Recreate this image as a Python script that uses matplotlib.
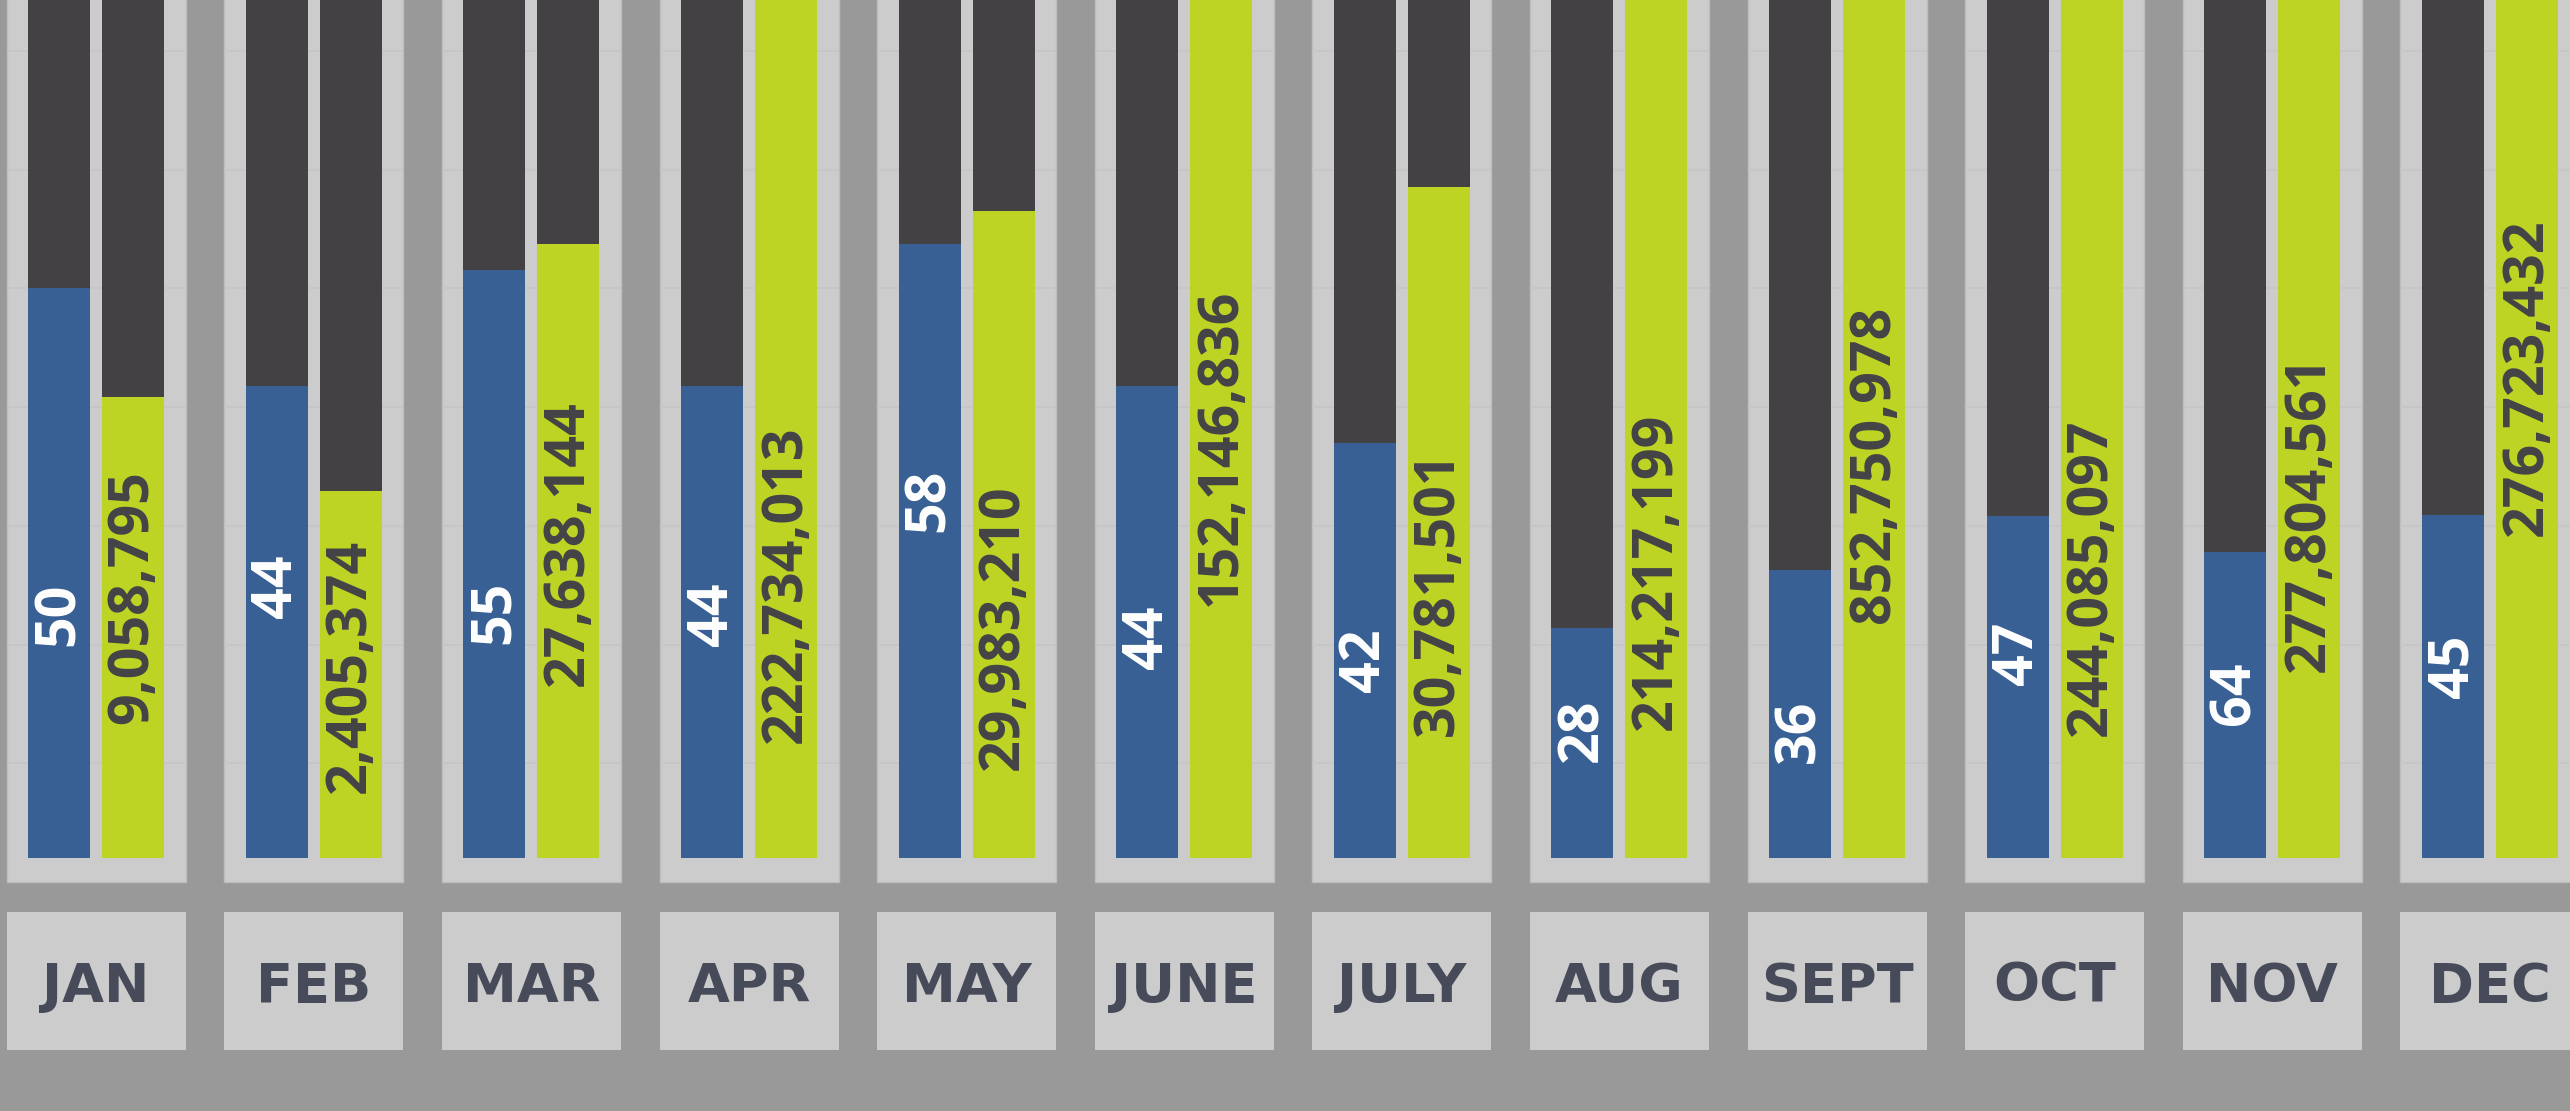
import numpy as np
import matplotlib.pyplot as plt

plt.rcParams['font.family'] = ['Open Sans', 'DejaVu Sans']

months = ['JAN', 'FEB', 'MAR', 'APR', 'MAY', 'JUNE', 'JULY', 'AUG', 'SEPT', 'OCT', 'NOV', 'DEC']
pct_labels = ['50', '44', '55', '44', '58', '44', '42', '28', '36', '47', '64', '45']
count_labels = ['9,058,795', '2,405,374', '27,638,144', '222,734,013', '29,983,210',
                '152,146,836', '30,781,501', '214,217,199', '852,750,978',
                '244,085,097', '277,804,561', '276,723,432']
# bar heights as drawn (grid step = 10), full column = 80
blue_height = [48.0, 39.8, 49.5, 39.8, 51.7, 39.8, 35.0, 19.4, 24.3, 28.8, 25.8, 28.9]
green_height = [38.8, 30.9, 51.7, 80, 54.5, 80, 56.5, 80, 80, 80, 80, 80]
full_height = 80

# where the rotated labels start (layout only)
blue_label_y = [17.9, 20.2, 18.0, 17.9, 27.5, 15.9, 14.0, 8.1, 8.0, 14.6, 11.2, 13.5]
green_label_y = [11.3, 5.5, 14.5, 9.7, 7.4, 21.2, 10.3, 10.8, 19.8, 10.3, 15.7, 27.1]

BG = '#999999'
PANEL = '#cccccc'
DARK = '#434144'
BLUE = '#386094'
GREEN = '#bdd424'
TXT = '#444348'
MONTH_TXT = '#474a59'

fig = plt.figure(figsize=(25.7, 11.11), dpi=100, facecolor=BG)
ax = fig.add_axes([0, 0, 1, 1])
ax.set_facecolor(BG)

x = np.arange(len(months))
panel_w = 0.8226
bar_w = 0.285
off = 0.170
panel_bottom = -2.02

# grey panels behind each month
ax.bar(x, full_height - panel_bottom, bottom=panel_bottom, width=panel_w,
       color=PANEL, edgecolor='#bdbdbd', linewidth=1, zorder=0)

# faint gridlines inside panels only
for g in np.arange(1, 8) * 10 + panel_bottom:
    ax.hlines(np.full(len(x), g), x - panel_w / 2, x + panel_w / 2,
              color='#c5c5c5', lw=1.2, zorder=1)

# dark remainder columns
ax.bar(x - off, full_height, width=bar_w, color=DARK, zorder=2)
ax.bar(x + off, full_height, width=bar_w, color=DARK, zorder=2)

ax.bar(x - off, blue_height, width=bar_w, color=BLUE, zorder=3)
ax.bar(x + off, green_height, width=bar_w, color=GREEN, zorder=3)

for i in range(len(months)):
    ax.text(x[i] - off, blue_label_y[i], pct_labels[i], rotation=90, ha='center', va='bottom',
            color='white', fontsize=40, fontweight='bold', zorder=4)
    ax.text(x[i] + off, green_label_y[i], count_labels[i], rotation=90, ha='center', va='bottom',
            color=TXT, fontsize=40, fontweight='bold', zorder=4)

# month boxes
ax.bar(x, -11.63, bottom=-4.55, width=panel_w, color=PANEL, zorder=0)
for i, m in enumerate(months):
    ax.text(x[i], -12.1, m, ha='center', va='baseline', color=MONTH_TXT,
            fontsize=39, fontweight='bold', family='DejaVu Sans', zorder=4)

ax.set_xlim(-0.442, 11.368)
ax.set_ylim(-21.31, 72.28)
ax.axis('off')

fig.savefig('out.png', dpi=100, facecolor=BG)
plt.close()
